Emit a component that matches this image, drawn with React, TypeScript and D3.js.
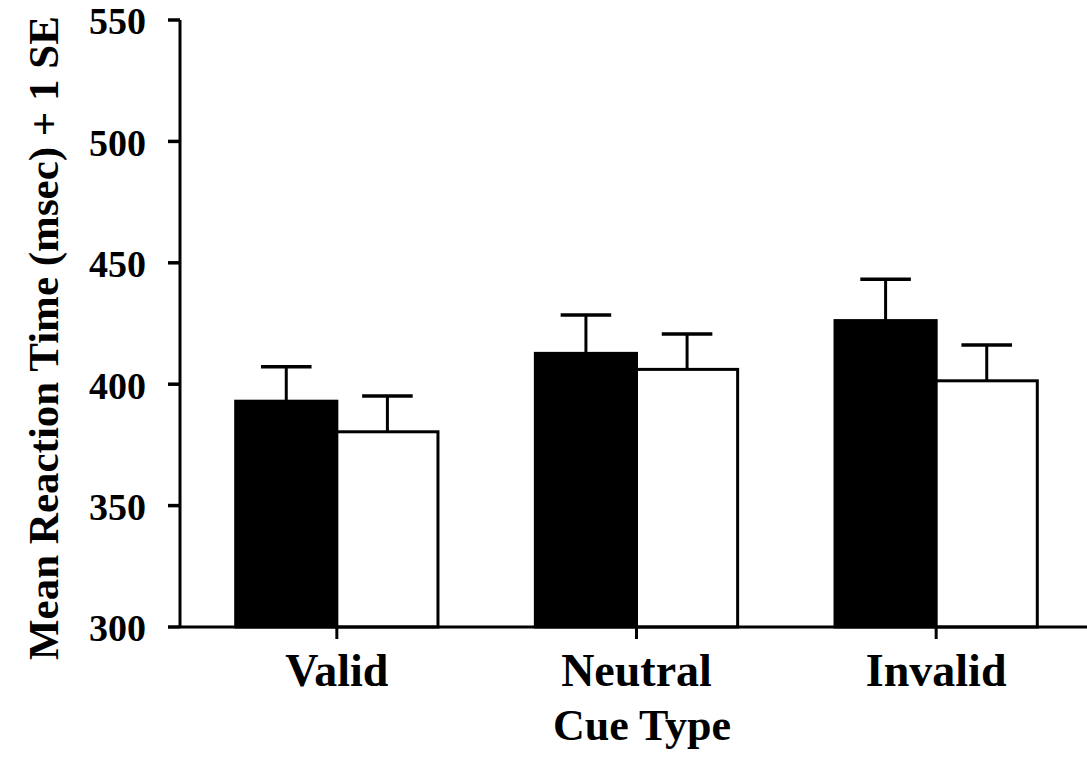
import React from "react";
import * as d3 from "d3";

const categories = ["Valid", "Neutral", "Invalid"];
const seriesKeys = ["filled", "open"];
const filledMeans = [393, 412.7, 426.2];
const filledTops = [407.2, 428.5, 443.2];
const openMeans = [380.4, 406.1, 401.4];
const openTops = [395.1, 420.7, 416.1];
const yTicks = [300, 350, 400, 450, 500, 550];
const xTitle = "Cue Type";
const yTitle = "Mean Reaction Time (msec) + 1 SE";

const W = 1087;
const H = 759;
const FONT = "'Liberation Serif', 'Times New Roman', serif";

export default function App() {
  const y = d3.scaleLinear().domain([300, 550]).range([627, 20]);
  const x = d3
    .scaleBand<string>()
    .domain(categories)
    .range([187, 1086])
    .paddingInner(0.325)
    .paddingOuter(0.1625);
  const xs = d3.scaleBand<string>().domain(seriesKeys).range([0, x.bandwidth()]);
  const axisX0 = 180;
  const baseY = y(300);

  const series = [
    { key: "filled", means: filledMeans, tops: filledTops, fill: "#000" },
    { key: "open", means: openMeans, tops: openTops, fill: "#fff" },
  ];

  return (
    <div style={{ position: "absolute", left: 0, top: 0 }}>
      <svg width={W} height={H} style={{ display: "block", background: "#fff" }}>
        {series.map((s) =>
          categories.map((c, i) => {
            const bx = (x(c) as number) + (xs(s.key) as number);
            const bw = xs.bandwidth();
            const top = y(s.means[i]);
            const et = y(s.tops[i]);
            const cx = bx + bw / 2;
            const capW = bw / 2;
            return (
              <g key={s.key + c}>
                <line x1={cx} x2={cx} y1={top} y2={et} stroke="#000" strokeWidth={3} />
                <line x1={cx - capW / 2} x2={cx + capW / 2} y1={et} y2={et} stroke="#000" strokeWidth={3.5} />
                <rect
                  x={bx}
                  y={top}
                  width={bw}
                  height={baseY - top}
                  fill={s.fill}
                  stroke="#000"
                  strokeWidth={3}
                />
              </g>
            );
          })
        )}
        <line x1={axisX0} x2={axisX0} y1={y(550)} y2={baseY} stroke="#000" strokeWidth={3} />
        {yTicks.map((t) => (
          <g key={t}>
            <line x1={axisX0 - 12} x2={axisX0} y1={y(t)} y2={y(t)} stroke="#000" strokeWidth={3.5} />
            <text
              x={146}
              y={y(t)}
              dy="0.38em"
              textAnchor="end"
              fontFamily={FONT}
              fontWeight="bold"
              fontSize={38}
              fill="#000"
            >
              {t}
            </text>
          </g>
        ))}
        <line x1={axisX0} x2={W} y1={baseY} y2={baseY} stroke="#000" strokeWidth={3} />
        {categories.map((c) => {
          const cx = (x(c) as number) + x.bandwidth() / 2;
          return (
            <g key={c}>
              <line x1={cx} x2={cx} y1={baseY} y2={baseY + 12} stroke="#000" strokeWidth={3} />
              <text
                x={cx}
                y={686}
                textAnchor="middle"
                fontFamily={FONT}
                fontWeight="bold"
                fontSize={46}
                fill="#000"
              >
                {c}
              </text>
            </g>
          );
        })}
        <text
          x={642}
          y={740}
          textAnchor="middle"
          fontFamily={FONT}
          fontWeight="bold"
          fontSize={44}
          fill="#000"
        >
          {xTitle}
        </text>
        <text
          transform={`translate(58, 338) rotate(-90)`}
          textAnchor="middle"
          fontFamily={FONT}
          fontWeight="bold"
          fontSize={43}
          fill="#000"
        >
          {yTitle}
        </text>
      </svg>
    </div>
  );
}
